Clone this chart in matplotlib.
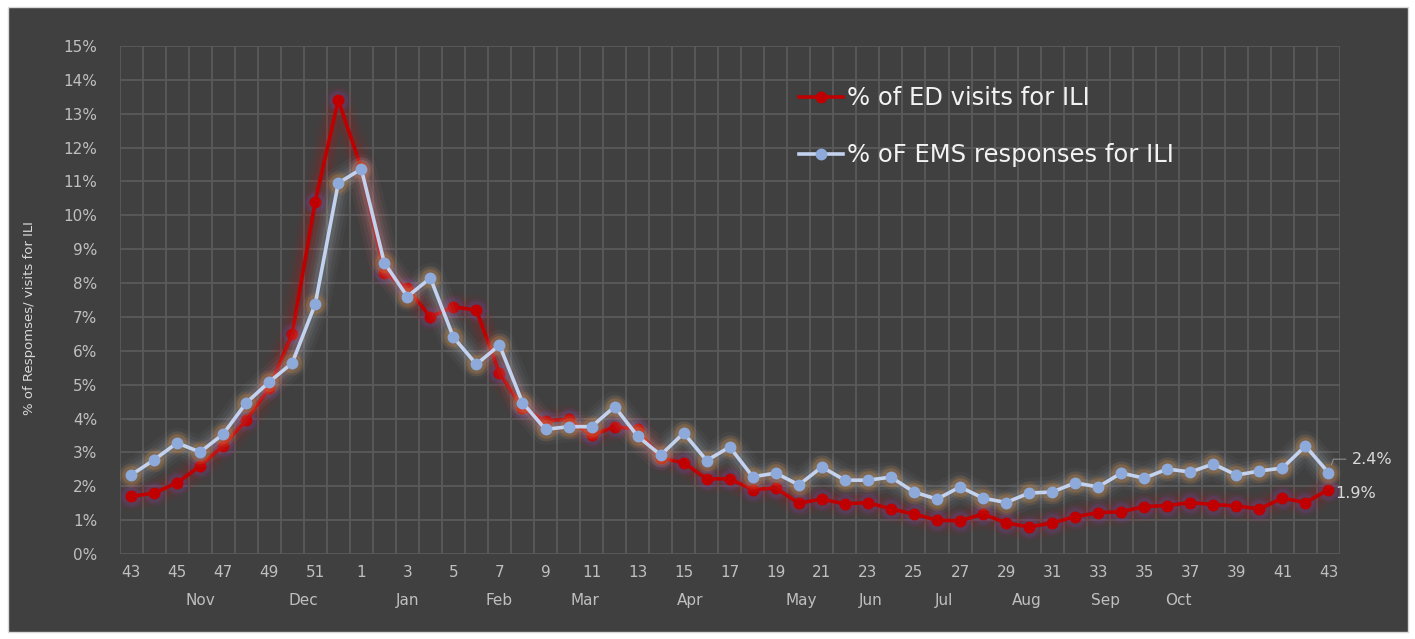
import numpy as np
import matplotlib
matplotlib.use('Agg')
import matplotlib.pyplot as plt
from matplotlib.patches import Rectangle
from matplotlib.ticker import FuncFormatter, MultipleLocator

# week numbers, Oct (wk 43) to the next Oct (wk 43)
weeks = list(range(43, 53)) + list(range(1, 44))

ed_visits = [1.7, 1.8, 2.1, 2.6, 3.2, 3.95, 4.9, 6.5, 10.4, 13.4,
             11.4, 8.3, 7.85, 7.0, 7.3, 7.2, 5.35, 4.3, 3.93, 3.98,
             3.5, 3.76, 3.68, 2.83, 2.7, 2.22, 2.22, 1.9, 1.95, 1.5,
             1.62, 1.48, 1.52, 1.33, 1.18, 1.0, 0.98, 1.18, 0.92, 0.8,
             0.92, 1.1, 1.22, 1.25, 1.4, 1.43, 1.52, 1.46, 1.42, 1.33,
             1.65, 1.52, 1.9]

ems_responses = [2.33, 2.78, 3.28, 3.01, 3.54, 4.46, 5.08, 5.64, 7.38, 10.95,
                 11.37, 8.6, 7.6, 8.15, 6.4, 5.6, 6.17, 4.47, 3.68, 3.76,
                 3.76, 4.35, 3.48, 2.92, 3.57, 2.76, 3.16, 2.28, 2.39, 2.04,
                 2.57, 2.18, 2.18, 2.27, 1.83, 1.62, 1.98, 1.65, 1.52, 1.8,
                 1.83, 2.1, 1.98, 2.39, 2.24, 2.51, 2.42, 2.66, 2.33, 2.45,
                 2.54, 3.19, 2.4]

months = ['Nov', 'Dec', 'Jan', 'Feb', 'Mar', 'Apr', 'May', 'Jun', 'Jul', 'Aug', 'Sep', 'Oct']
month_centers = [3.0, 7.5, 12.0, 16.0, 19.7, 24.3, 29.1, 32.1, 35.3, 38.9, 42.3, 45.5]

BG = '#404040'
GRID = '#5a5a5a'
TXT = '#bfbfbf'
RED = '#c00000'
BLUE_LINE = '#c3d2ee'
BLUE_MARK = '#8eaadb'

plt.rcParams['font.family'] = ['DejaVu Sans']

fig = plt.figure(figsize=(14.15, 6.39), dpi=100, facecolor='white')
fig.patches.append(Rectangle((8 / 1415, 7 / 639), 1400 / 1415, 625 / 639,
                             transform=fig.transFigure, facecolor=BG,
                             edgecolor='#d9d9d9', linewidth=1, zorder=-5))

ax = fig.add_axes([119.5 / 1415, 1 - 554 / 639, 1220.5 / 1415, 508 / 639])
ax.set_facecolor('none')
ax.set_zorder(2)

x = np.arange(len(weeks))


def glow_line(vals, line_col, glow_col, mark_col, mark_glow, z):
    for w, a in [(22, 0.04), (17, 0.05), (12, 0.07), (8, 0.1)]:
        ax.plot(x, vals, color=glow_col, lw=w, alpha=a, solid_capstyle='round',
                solid_joinstyle='round', zorder=z)
    for s, a in [(300, 0.12), (190, 0.2)]:
        ax.scatter(x, vals, s=s, color=mark_glow, alpha=a, lw=0, zorder=z + 0.1)
    ln, = ax.plot(x, vals, color=line_col, lw=2.6, marker='o', markersize=7.5,
                  markerfacecolor=mark_col, markeredgecolor=mark_col, zorder=z + 0.2)
    return ln


l1 = glow_line(ed_visits, RED, '#d01010', RED, '#6a4aa0', 3)
l2 = glow_line(ems_responses, BLUE_LINE, '#c8d0dc', BLUE_MARK, '#d88a3a', 4)

ax.set_xlim(-0.5, len(weeks) - 0.5)
ax.set_ylim(0, 15)
ax.yaxis.set_major_locator(MultipleLocator(1))
ax.yaxis.set_major_formatter(FuncFormatter(lambda v, p: f'{v:.0f}%'))

ax.set_xticks(x[::2])
ax.set_xticklabels([str(w) for w in weeks[::2]])
for k in np.arange(-0.5, len(weeks), 1.0):
    ax.axvline(k, color=GRID, lw=1.3, zorder=1)
for k in range(0, 16):
    ax.axhline(k, color=GRID, lw=1.3, zorder=1)

for s in ax.spines.values():
    s.set_visible(False)
ax.tick_params(axis='both', length=0, colors=TXT, labelsize=11)
ax.tick_params(axis='x', pad=8)
ax.tick_params(axis='y', pad=16)

for m, c in zip(months, month_centers):
    ax.text(c, -0.0925, m, transform=ax.get_xaxis_transform(), ha='center',
            va='center', color=TXT, fontsize=11)

fig.text(30 / 1415, 1 - 318 / 639, '% of Respomses/ visits for ILI', rotation=90,
         ha='center', va='center', color='#d9d9d9', fontsize=9.5,
         family=['Liberation Sans Narrow', 'DejaVu Sans'])

# end-point data labels
ax.annotate('2.4%', xy=(x[-1], ems_responses[-1]), xytext=(x[-1] + 1.0, 2.8),
            color='#d9d9d9', fontsize=11.5, va='center', ha='left',
            annotation_clip=False,
            arrowprops=dict(arrowstyle='-', color='#8c8c8c', lw=0.8,
                            connectionstyle='angle,angleA=0,angleB=70,rad=0',
                            shrinkA=2, shrinkB=6))
ax.annotate('1.9%', xy=(x[-1], ed_visits[-1]), xytext=(5, -3),
            textcoords='offset points', color='#d9d9d9', fontsize=11.5,
            va='center', ha='left', annotation_clip=False)

leg = ax.legend([l1, l2], ['% of ED visits for ILI', '% oF EMS responses for ILI'],
                loc='upper left', bbox_to_anchor=(0.549, 0.94), frameon=False,
                fontsize=17.5, labelspacing=1.35, handlelength=1.8, handletextpad=0.15,
                borderaxespad=0)
for t in leg.get_texts():
    t.set_color('#f2f2f2')

fig.savefig('out.png', dpi=100, facecolor='white')
